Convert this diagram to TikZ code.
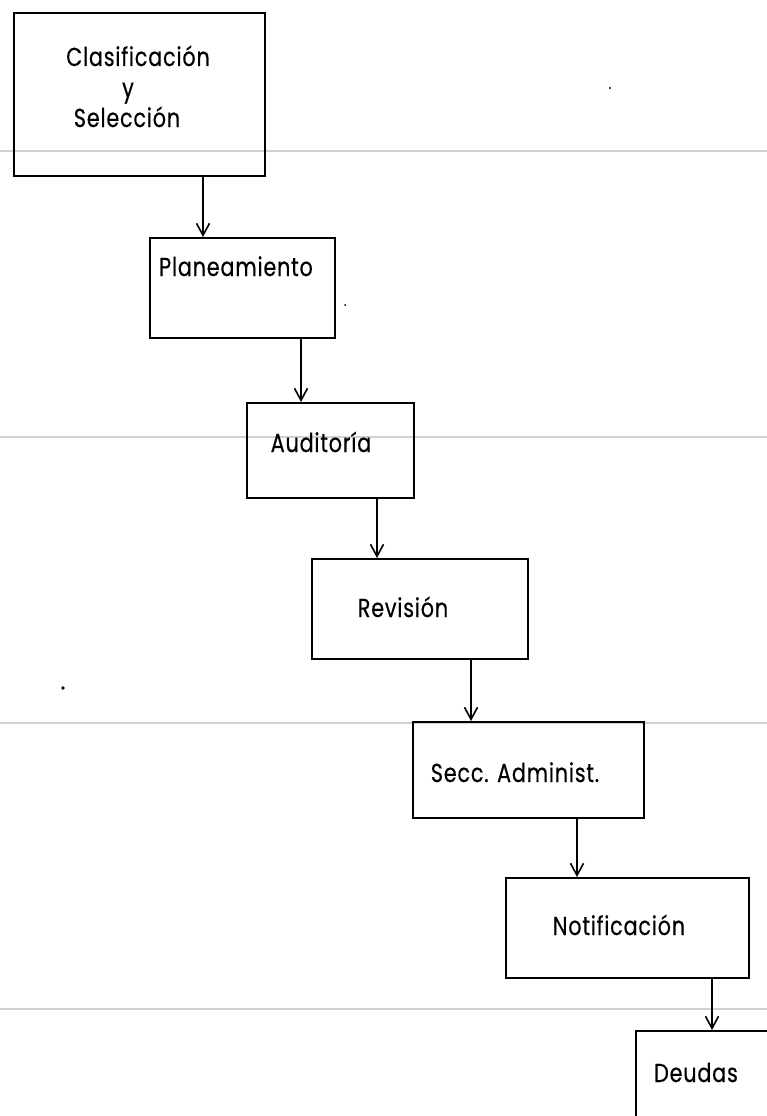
\documentclass[tikz,border=0pt]{standalone}
\usepackage{fontspec}
\setmainfont{Poppins}[LetterSpace=3,FakeStretch=0.8,FakeBold=0.4]
\usetikzlibrary{arrows.meta}
\begin{document}
\begin{tikzpicture}[x=1pt,y=-1pt,
  stepbox/.style={draw=black,line width=2.3pt,inner sep=0pt,anchor=north west},
  lbl/.style={anchor=base,inner sep=0pt,font=\fontsize{26}{30}\selectfont},
  arr/.style={draw=black,line width=1.6pt,-{Straight Barb[length=12pt,width=13pt,line width=1.6pt]}},
  scanline/.style={draw=black!18,line width=1.3pt}]
\clip (0,0) rectangle (767,1116);
\fill[white] (0,0) rectangle (767,1116);
% faint ruled lines of the page
\draw[scanline] (0,151) -- (767,151);
\draw[scanline] (0,437) -- (767,437);
\draw[scanline] (0,723) -- (767,723);
\draw[scanline] (0,1009) -- (767,1009);
% boxes
\node[stepbox,minimum width=251pt,minimum height=163pt] (b1) at (13,12) {};
\node[stepbox,minimum width=185pt,minimum height=100pt] (b2) at (149,237) {};
\node[stepbox,minimum width=167pt,minimum height=95pt] (b3) at (246,402) {};
\node[stepbox,minimum width=216pt,minimum height=100pt] (b4) at (311,558) {};
\node[stepbox,minimum width=231pt,minimum height=96pt] (b5) at (412,721) {};
\node[stepbox,minimum width=243pt,minimum height=100pt] (b6) at (505,877) {};
\node[stepbox,minimum width=200pt,minimum height=130pt] (b7) at (635,1030) {};
% labels
\node[lbl] (t1a) at (138,66) {Clasificación};
\node[lbl] (t1b) at (128,97) {y};
\node[lbl] (t1c) at (127,127) {Selección};
\node[lbl] (t2) at (236,276) {Planeamiento};
\node[lbl] (t3) at (321,452) {Auditoría};
\node[lbl] (t4) at (403,617) {Revisión};
\node[lbl] (t5) at (515,782) {Secc. Administ.};
\node[lbl] (t6) at (619,935) {Notificación};
\node[lbl] (t7) at (696,1082) {Deudas};
% connectors
\draw[arr] ([xshift=190pt]b1.south west) -- ([xshift=54pt]b2.north west);
\draw[arr] ([xshift=152pt]b2.south west) -- ([xshift=55pt]b3.north west);
\draw[arr] ([xshift=131pt]b3.south west) -- ([xshift=66pt]b4.north west);
\draw[arr] ([xshift=160pt]b4.south west) -- ([xshift=59pt]b5.north west);
\draw[arr] ([xshift=165pt]b5.south west) -- ([xshift=72pt]b6.north west);
\draw[arr] ([xshift=207pt]b6.south west) -- ([xshift=77pt]b7.north west);
% specks of the scan
\fill (610,88) circle (1.2pt);
\fill (63,688) circle (1.8pt);
\fill (345,305) circle (1pt);
\end{tikzpicture}
\end{document}
